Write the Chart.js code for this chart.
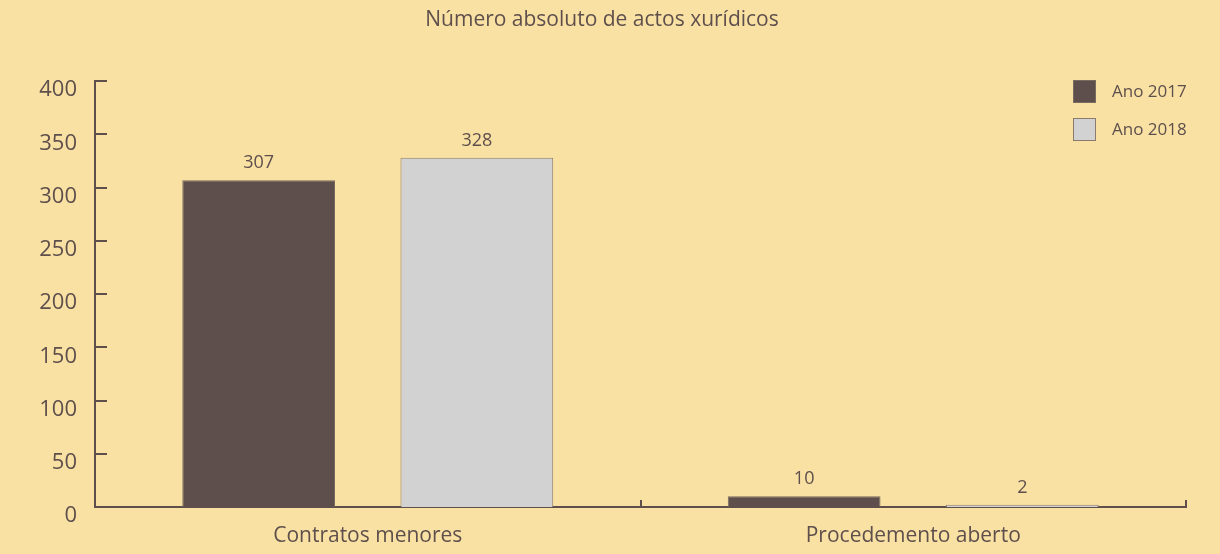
<!DOCTYPE html>
<html>
<head>
<meta charset="utf-8">
<script src="https://cdn.jsdelivr.net/npm/chart.js@4.4.1/dist/chart.umd.min.js"></script>
<style>
  html, body { margin: 0; padding: 0; background: #f9e1a4; }
  #wrap { width: 1220px; height: 554px; position: relative; }
</style>
</head>
<body>
<div id="wrap"><canvas id="chart"></canvas></div>
<script>
// data
const categories = ['Contratos menores', 'Procedemento aberto'];
const seriesNames = ['Ano 2017', 'Ano 2018'];
const values2017 = [307, 10];
const values2018 = [328, 2];
const yTicks = [0, 50, 100, 150, 200, 250, 300, 350, 400];
const chartTitle = 'Número absoluto de actos xurídicos';

const INK = '#5e4f4c';
const FONT = '"Open Sans", "DejaVu Sans", sans-serif';

// ticks drawn inward, category dividers, value labels
const marks = {
  id: 'marks',
  afterDatasetsDraw(chart){
    const ctx = chart.ctx;
    const xs = chart.scales.x, ys = chart.scales.y;
    const area = chart.chartArea;
    ctx.save();
    ctx.strokeStyle = INK;
    ctx.lineWidth = 2;
    // y ticks pointing right
    yTicks.forEach(v=>{
      const y = Math.round(ys.getPixelForValue(v));
      ctx.beginPath(); ctx.moveTo(area.left, y); ctx.lineTo(area.left + 12, y); ctx.stroke();
    });
    // x ticks between categories, pointing up
    for(let i=1;i<=categories.length;i++){
      const x = Math.round(xs.getPixelForValue(i - 0.5));
      ctx.beginPath(); ctx.moveTo(x, area.bottom); ctx.lineTo(x, area.bottom - 7); ctx.stroke();
    }
    // value labels
    ctx.fillStyle = INK;
    ctx.font = '18px ' + FONT;
    ctx.textAlign = 'center';
    ctx.textBaseline = 'bottom';
    chart.data.datasets.forEach((ds, di)=>{
      chart.getDatasetMeta(di).data.forEach((bar, j)=>{
        ctx.fillText(String(ds.data[j]), bar.x, bar.y - 8);
      });
    });
    ctx.restore();
  }
};

// vertical legend in the top right corner
const sideLegend = {
  id: 'sideLegend',
  afterDraw(chart){
    const ctx = chart.ctx;
    ctx.save();
    ctx.font = '17px ' + FONT;
    ctx.textBaseline = 'middle';
    ctx.textAlign = 'left';
    chart.data.datasets.forEach((ds, i)=>{
      const top = 80 + i * 38;
      ctx.fillStyle = ds.backgroundColor;
      ctx.fillRect(1073, top, 23, 23);
      ctx.strokeStyle = ds.borderColor;
      ctx.lineWidth = 1;
      ctx.strokeRect(1073.5, top + 0.5, 22, 22);
      ctx.fillStyle = INK;
      ctx.fillText(ds.label, 1112, top + 12);
    });
    ctx.restore();
  }
};

new Chart(document.getElementById('chart'), {
  type: 'bar',
  data: {
    labels: categories,
    datasets: [
      { label: seriesNames[0], data: values2017, backgroundColor: '#5e4f4c', borderColor: '#7a6a5f', borderWidth: 1 },
      { label: seriesNames[1], data: values2018, backgroundColor: '#d3d2d3', borderColor: '#8a7b6e', borderWidth: 1 }
    ]
  },
  options: {
    responsive: true,
    maintainAspectRatio: false,
    animation: false,
    layout: { padding: { left: 18, right: 34, top: 0, bottom: 0 } },
    datasets: { bar: { categoryPercentage: 0.8, barPercentage: 0.7 } },
    plugins: {
      legend: { display: false },
      tooltip: { enabled: false },
      title: {
        display: true,
        text: chartTitle,
        color: INK,
        font: { family: FONT, size: 21, weight: 'normal' },
        padding: { top: 7, bottom: 49 }
      }
    },
    scales: {
      x: {
        grid: { display: false, drawTicks: false },
        border: { display: true, color: INK, width: 2 },
        ticks: { color: INK, font: { family: FONT, size: 21 }, padding: 16 },
        afterFit(s){ s.height = 47; }
      },
      y: {
        min: 0, max: 400,
        grid: { display: false, drawTicks: false },
        border: { display: true, color: INK, width: 2 },
        ticks: { stepSize: 50, color: INK, font: { family: FONT, size: 22 }, padding: 18, labelOffset: 9 },
        afterFit(s){ s.width = 77; }
      }
    }
  },
  plugins: [marks, sideLegend]
});
</script>
</body>
</html>
